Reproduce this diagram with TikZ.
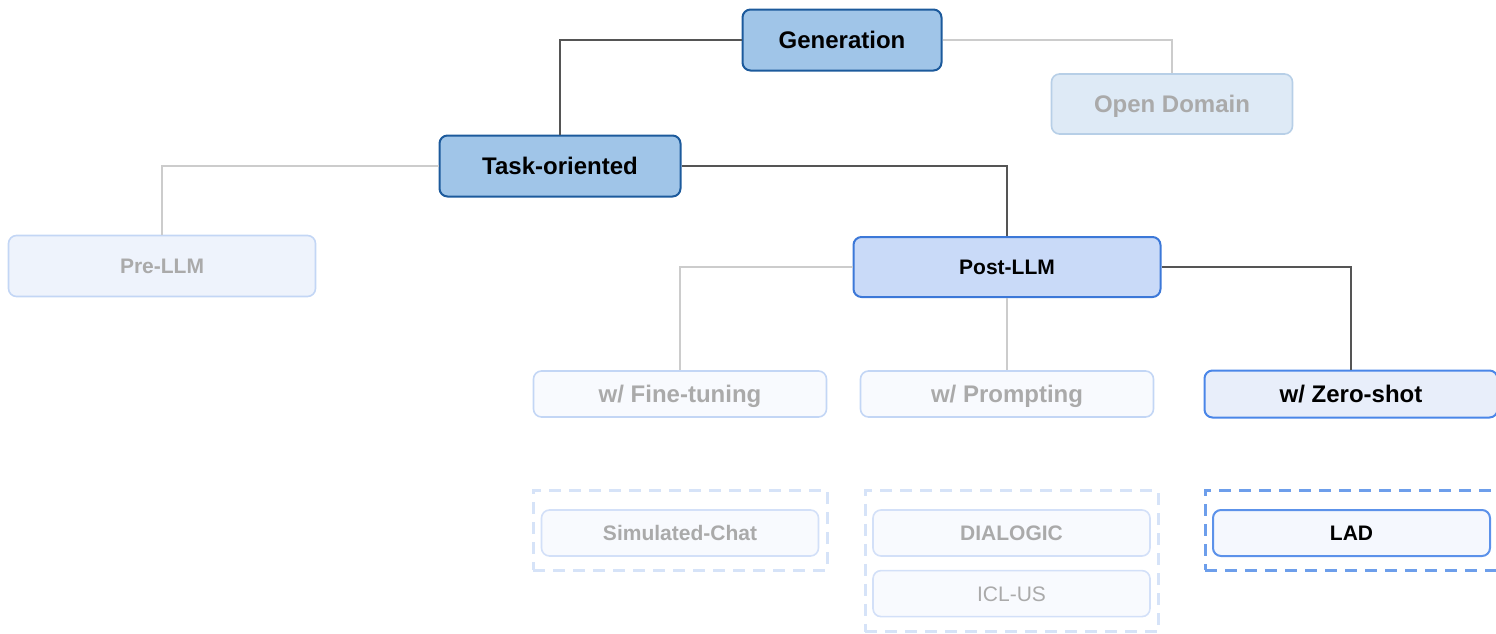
\documentclass[tikz,border=0pt]{standalone}
\usepackage{fontspec}
\setmainfont{Liberation Sans}
\usepackage{xcolor}
\usetikzlibrary{positioning}

\definecolor{deepblue}{HTML}{1C5A9C}
\definecolor{skyfill}{HTML}{A0C5E8}
\definecolor{openfill}{HTML}{DEEAF6}
\definecolor{openline}{HTML}{B7CFE7}
\definecolor{postfill}{HTML}{C9DAF8}
\definecolor{postline}{HTML}{3C78D8}
\definecolor{prefill}{HTML}{EEF3FC}
\definecolor{preline}{HTML}{C3D6F5}
\definecolor{palefill}{HTML}{F8FAFE}
\definecolor{paleline}{HTML}{D3E0F8}
\definecolor{zerofill}{HTML}{E8EEFA}
\definecolor{zeroline}{HTML}{4A86E8}
\definecolor{ladfill}{HTML}{F5F8FE}
\definecolor{groupline}{HTML}{D6E3F8}
\definecolor{groupdark}{HTML}{6D9EEB}
\definecolor{fadetext}{HTML}{AAAAAA}
\definecolor{darkedge}{HTML}{555555}
\definecolor{lightedge}{HTML}{CCCCCC}

\begin{document}
\begin{tikzpicture}[
    x = 0.5pt, y = -0.5pt, % one unit per pixel
    every node/.style = {rounded corners = 4pt, inner sep = 0pt, align = center, text depth = 0pt},
    big/.style = {font = \fontsize{12pt}{14pt}\selectfont\bfseries, text height = 8.4pt},
    small/.style = {font = \fontsize{10.5pt}{12pt}\selectfont\bfseries, text height = 7.4pt},
    topbox/.style = {draw = deepblue, fill = skyfill, line width = 1pt, big},
    openbox/.style = {draw = openline, fill = openfill, line width = 0.8pt, big, text = fadetext},
    postbox/.style = {draw = postline, fill = postfill, line width = 1pt, small},
    prebox/.style = {draw = preline, fill = prefill, line width = 0.8pt, small, text = fadetext},
    methbox/.style = {draw = preline, fill = palefill, line width = 0.8pt, big, text = fadetext},
    zerobox/.style = {draw = zeroline, fill = zerofill, line width = 1pt, big},
    leafbox/.style = {draw = paleline, fill = palefill, line width = 0.8pt, small, text = fadetext,
        minimum width = 138.5pt, minimum height = 23pt},
    ladbox/.style = {draw = zeroline!90, fill = ladfill, line width = 1pt, small,
        minimum width = 138.5pt, minimum height = 23pt},
    groupbox/.style = {draw = groupline, line width = 1.5pt, rounded corners = 0pt,
        dash pattern = on 6pt off 4pt},
    darkline/.style = {draw = darkedge, line width = 0.8pt},
    lightline/.style = {draw = lightedge, line width = 0.8pt}
]
\useasboundingbox (0,0) rectangle (1496,633);

% top levels
\node[topbox, minimum width = 99.5pt, minimum height = 30.5pt] (gen) at (842,40) {Generation};
\node[openbox, minimum width = 120.5pt, minimum height = 30pt] (open) at (1172,104) {Open Domain};
\node[topbox, minimum width = 120.5pt, minimum height = 30.5pt] (task) at (560,166) {Task-oriented};
\node[prebox, minimum width = 153.5pt, minimum height = 30.5pt] (pre) at (162,266) {Pre-LLM};
\node[postbox, minimum width = 153.5pt, minimum height = 30pt] (post) at (1007,267) {Post-LLM};

% methods
\node[methbox, minimum width = 146.5pt, minimum height = 23pt] (fine) at (680,394) {w/ Fine-tuning};
\node[methbox, minimum width = 146.5pt, minimum height = 23pt] (prompt) at (1007,394) {w/ Prompting};
\node[zerobox, minimum width = 146.5pt, minimum height = 23.5pt] (zero) at (1351,394) {w/ Zero-shot};

% groups of works
\node[groupbox, minimum width = 147pt, minimum height = 40pt] (grpa) at (680,530) {};
\node[groupbox, minimum width = 146.5pt, minimum height = 70.5pt] (grpb) at (1011.5,561) {};
\node[groupbox, draw = groupdark, minimum width = 146.5pt, minimum height = 40pt] (grpc) at (1351.5,530) {};

\node[leafbox] (chat) at (680,533) {Simulated-Chat};
\node[leafbox] (dial) at (1011.5,533) {DIALOGIC};
\node[leafbox, font = \fontsize{10.5pt}{12pt}\selectfont, below = 6.5pt of dial] (icl) {ICL-US};
\node[ladbox] (lad) at (1351.5,533) {LAD};

% connectors
\path[darkline] (gen.west) -| (task.north);
\path[lightline] (gen.east) -| (open.north);
\path[lightline] (task.west) -| (pre.north);
\path[darkline] (task.east) -| (post.north);
\path[lightline] (post.west) -| (fine.north);
\path[lightline] (post.south) -- (prompt.north);
\path[darkline] (post.east) -| (zero.north);

\end{tikzpicture}
\end{document}
